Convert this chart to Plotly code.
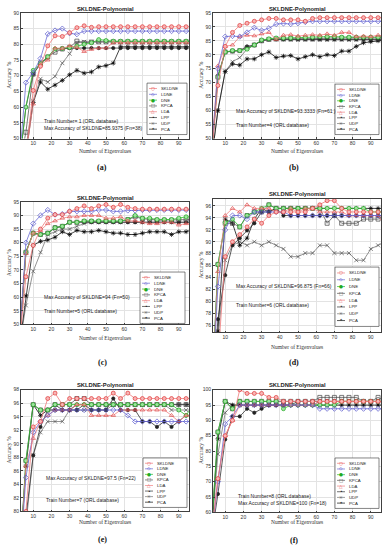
import plotly.graph_objects as go
from plotly.subplots import make_subplots

W, H = 384, 550

# ---------------- data ----------------
x_eig = [2, 6, 10, 14, 18, 22, 26, 30, 34, 38, 42, 46, 50, 54, 58, 62, 66, 70, 74, 78, 82, 86, 90, 94, 98]
methods = ["SKLDNE", "LDNE", "DNE", "KPCA", "LDA", "LPP", "UDP", "PCA"]

# (a) Train Number = 1
SK_a = [40, 45, 65.3, 73.0, 79.5, 82.7, 82.5, 83.7, 85.3, 85.9, 85.4, 85.6, 85.6, 85.6, 85.6, 85.6, 85.6, 85.6, 85.6, 85.6, 85.6, 85.6, 85.6, 85.6, 85.6]
LD_a = [40, 67.8, 71.0, 75.5, 83.3, 84.4, 85.0, 83.5, 83.2, 84.2, 84.2, 84.2, 84.2, 84.2, 84.2, 84.2, 84.2, 84.2, 84.2, 84.2, 84.2, 84.2, 84.2, 84.2, 84.2]
DN_a = [40, 60.0, 71.7, 73.8, 76.0, 78.5, 78.7, 79.0, 79.4, 80.0, 80.5, 81.5, 81.2, 81.0, 81.0, 81.0, 81.0, 81.0, 81.0, 81.0, 81.0, 81.0, 81.0, 81.0, 81.0]
KP_a = [40, 52.0, 70.5, 74.0, 76.0, 77.5, 78.5, 79.0, 81.0, 80.5, 80.7, 80.8, 80.8, 80.8, 80.8, 80.8, 80.8, 80.8, 80.8, 80.8, 80.8, 80.8, 80.8, 80.8, 80.8]
LA_a = [40, 45.0, 61.0, 73.5, 75.0, 78.8, 78.7, 79.5, 79.0, 77.7, 78.4, 78.8, 78.8, 80.5, 80.5, 80.5, 80.5, 80.5, 80.5, 80.5, 80.5, 80.5, 80.5, 80.5, 80.5]
LP_a = [40, 60.0, 70.5, 73.8, 75.8, 78.5, 78.6, 78.8, 78.8, 78.8, 78.8, 78.8, 78.8, 78.8, 78.8, 78.8, 78.8, 78.8, 78.8, 78.8, 78.8, 78.8, 78.8, 78.8, 78.8]
UD_a = [40, 47.0, 62.0, 69.0, 68.0, 69.8, 74.0, 77.0, 80.5, 80.8, 80.8, 80.8, 80.8, 80.8, 80.8, 80.8, 80.8, 80.8, 80.8, 80.8, 80.8, 80.8, 80.8, 80.8, 80.8]
PC_a = [40, 45.0, 61.5, 68.0, 65.7, 67.0, 68.5, 70.3, 71.7, 70.8, 71.2, 72.8, 73.2, 74.0, 79.2, 79.2, 79.2, 79.2, 79.2, 79.2, 79.2, 79.2, 79.2, 79.2, 79.2]

# (b) Train Number = 4
SK_b = [40, 69.0, 83.0, 88.0, 90.5, 91.3, 92.0, 92.5, 93.0, 93.0, 92.5, 92.5, 92.5, 92.0, 93.0, 93.3, 93.3, 93.3, 93.3, 93.3, 93.3, 93.3, 93.3, 93.3, 93.3]
LD_b = [40, 75.0, 86.5, 86.7, 86.5, 88.0, 89.7, 88.7, 89.5, 91.0, 91.2, 91.0, 91.3, 91.7, 92.0, 92.0, 92.0, 92.0, 92.0, 92.0, 92.0, 92.0, 92.0, 92.0, 92.0]
DN_b = [40, 72.0, 81.0, 81.5, 81.5, 82.0, 83.5, 85.3, 85.7, 86.0, 86.0, 86.0, 86.2, 86.2, 86.3, 86.5, 86.5, 86.5, 86.3, 86.3, 86.3, 86.3, 86.3, 86.3, 86.3]
KP_b = [40, 72.0, 81.0, 81.3, 81.5, 82.5, 83.5, 85.0, 85.5, 85.7, 85.7, 85.8, 85.8, 85.8, 85.8, 85.8, 86.0, 86.0, 86.0, 86.0, 86.0, 86.0, 86.0, 86.0, 86.0]
LA_b = [40, 76.0, 83.0, 83.5, 86.5, 87.0, 86.8, 87.5, 88.0, 85.5, 87.0, 87.2, 86.7, 87.0, 87.2, 87.0, 87.5, 87.0, 88.0, 88.0, 86.5, 86.7, 86.5, 87.0, 86.7]
LP_b = [40, 72.5, 81.0, 81.3, 81.5, 83.0, 83.5, 85.0, 85.5, 85.5, 85.5, 85.5, 85.5, 85.5, 85.5, 85.5, 85.5, 85.5, 85.5, 85.5, 85.5, 85.5, 85.5, 85.5, 85.5]
UD_b = [40, 60.0, 74.0, 77.5, 79.0, 82.0, 83.5, 85.0, 85.5, 85.5, 85.5, 85.3, 85.3, 85.3, 85.3, 85.3, 85.3, 85.3, 85.3, 85.3, 85.3, 85.3, 85.3, 85.3, 85.3]
PC_b = [40, 60.0, 74.0, 76.7, 76.3, 78.5, 78.5, 80.0, 81.0, 79.0, 79.5, 79.7, 78.5, 79.3, 80.0, 79.3, 80.0, 79.7, 81.3, 81.3, 83.0, 84.3, 84.7, 85.0, 85.3]

# (c) Train Number = 5
SK_c = [40, 67.5, 79.0, 85.0, 89.0, 90.3, 90.3, 91.5, 92.5, 93.5, 92.5, 93.5, 94.0, 93.0, 94.0, 93.0, 92.5, 92.3, 92.3, 92.3, 92.3, 92.3, 92.3, 92.3, 92.3]
LD_c = [40, 80.0, 87.0, 90.0, 92.0, 90.3, 90.5, 91.5, 91.5, 91.5, 91.5, 92.0, 92.0, 91.5, 91.5, 91.8, 91.8, 92.0, 92.0, 92.0, 92.0, 92.0, 92.0, 92.0, 92.0]
DN_c = [40, 76.5, 83.5, 83.0, 83.5, 85.5, 86.0, 87.5, 87.5, 88.0, 88.0, 88.0, 88.0, 88.0, 88.0, 88.5, 90.0, 89.0, 89.0, 88.5, 88.5, 88.5, 89.0, 89.5, 89.5]
KP_c = [40, 76.5, 83.5, 83.0, 83.5, 85.5, 86.0, 87.5, 87.5, 87.8, 87.8, 87.8, 87.8, 87.8, 87.8, 88.5, 89.5, 88.8, 88.5, 88.3, 88.3, 88.3, 88.5, 88.5, 88.5]
LA_c = [40, 76.0, 83.5, 84.5, 87.0, 88.0, 89.0, 89.5, 89.5, 90.0, 90.0, 90.0, 89.0, 89.0, 89.5, 88.0, 88.0, 87.5, 87.0, 87.0, 87.5, 87.5, 86.5, 87.0, 87.0]
LP_c = [40, 76.5, 83.5, 83.0, 83.5, 85.5, 86.0, 87.5, 87.5, 87.5, 87.5, 87.5, 87.5, 87.5, 87.5, 87.5, 87.5, 87.5, 87.5, 87.5, 87.5, 87.5, 87.5, 87.5, 87.5]
UD_c = [40, 57.0, 69.5, 76.5, 83.0, 84.0, 85.0, 85.0, 86.0, 87.0, 87.5, 87.5, 87.5, 87.5, 87.5, 87.5, 87.5, 87.5, 87.5, 87.5, 87.5, 87.5, 87.5, 87.5, 87.5]
PC_c = [40, 60.5, 79.0, 80.5, 81.0, 82.0, 84.0, 83.0, 84.5, 84.0, 84.0, 84.5, 84.0, 83.5, 83.5, 83.0, 83.0, 83.5, 84.0, 84.0, 84.0, 83.0, 84.0, 84.0, 85.0]

# (d) Train Number = 6
SK_d = [60, 70.0, 87.5, 90.0, 91.2, 92.5, 93.8, 93.1, 94.4, 95.0, 95.0, 95.0, 95.0, 95.0, 95.6, 96.2, 96.9, 96.9, 95.6, 95.0, 95.0, 95.0, 95.0, 95.0, 95.0]
LD_d = [60, 82.5, 92.0, 94.4, 94.4, 93.8, 95.0, 95.0, 95.0, 95.0, 95.0, 94.4, 94.4, 94.4, 94.4, 94.4, 94.4, 94.4, 94.4, 94.4, 94.4, 94.4, 94.4, 94.4, 94.4]
DN_d = [60, 86.2, 93.2, 93.8, 92.5, 94.4, 95.0, 95.6, 96.2, 95.6, 95.6, 95.6, 95.6, 95.6, 95.6, 95.6, 95.6, 95.6, 95.6, 95.6, 95.6, 95.6, 95.0, 95.0, 95.0]
KP_d = [60, 86.2, 93.1, 93.1, 92.5, 94.4, 95.0, 95.0, 96.2, 95.6, 95.6, 95.6, 95.6, 95.6, 95.6, 95.6, 93.1, 94.4, 93.1, 93.1, 93.1, 93.8, 93.8, 93.8, 94.4]
LA_d = [60, 85.0, 94.4, 95.6, 95.0, 96.2, 95.6, 95.6, 95.6, 95.0, 95.0, 95.6, 95.0, 95.6, 95.6, 95.0, 95.0, 95.0, 95.0, 94.4, 94.4, 94.4, 94.4, 94.4, 92.5]
LP_d = [60, 77.0, 84.4, 89.4, 90.6, 91.9, 93.1, 95.0, 95.0, 95.6, 94.4, 94.4, 94.4, 94.4, 94.4, 94.4, 94.4, 94.4, 94.4, 94.4, 94.4, 94.4, 94.4, 94.4, 94.4]
UD_d = [60, 74.0, 86.9, 89.4, 90.0, 89.4, 90.0, 89.4, 90.0, 89.4, 88.8, 87.5, 87.5, 88.1, 88.1, 89.4, 89.4, 88.1, 88.1, 88.1, 86.9, 86.9, 88.8, 89.4, 90.0]
PC_d = [60, 75.0, 93.8, 93.1, 89.4, 90.6, 93.8, 95.6, 95.0, 95.6, 95.6, 95.6, 95.6, 95.6, 95.6, 95.6, 95.6, 95.6, 95.6, 95.6, 95.6, 95.6, 95.6, 95.6, 95.6]

# (e) Train Number = 7
SK_e = [70, 80.0, 92.5, 93.3, 96.7, 97.5, 95.8, 96.7, 96.7, 96.7, 96.7, 96.7, 96.7, 97.5, 96.7, 97.5, 96.7, 96.7, 96.7, 96.7, 96.7, 96.7, 96.7, 96.7, 96.7]
LD_e = [70, 85.0, 91.7, 93.3, 94.2, 95.0, 95.0, 95.0, 95.0, 95.0, 95.0, 95.0, 95.0, 95.0, 95.0, 94.2, 93.3, 93.3, 93.3, 93.3, 93.3, 93.3, 93.3, 93.3, 93.3]
DN_e = [70, 87.5, 95.8, 95.0, 95.0, 95.8, 95.8, 95.8, 95.8, 95.8, 95.8, 95.8, 95.8, 95.8, 95.8, 95.8, 95.8, 95.8, 95.8, 95.8, 95.8, 95.8, 95.0, 94.2, 95.8]
KP_e = [70, 87.5, 95.8, 95.0, 95.0, 95.8, 95.8, 95.8, 96.7, 96.7, 95.8, 95.8, 95.8, 95.8, 95.8, 95.8, 95.8, 95.8, 95.8, 95.8, 95.8, 95.8, 95.8, 95.8, 95.0]
LA_e = [70, 86.7, 90.8, 93.3, 94.2, 95.0, 95.0, 95.0, 95.8, 95.8, 94.2, 94.2, 94.2, 94.2, 95.0, 95.0, 95.0, 95.0, 95.0, 95.0, 95.0, 94.2, 93.3, 94.2, 94.2]
LP_e = [70, 79.0, 88.3, 92.5, 95.0, 95.8, 95.0, 95.0, 95.0, 95.8, 95.0, 95.0, 95.0, 96.7, 95.0, 95.0, 95.0, 93.3, 93.3, 92.5, 93.3, 92.5, 93.3, 94.2, 94.2]
UD_e = [70, 78.0, 88.3, 91.7, 93.3, 93.3, 93.3, 95.0, 95.0, 95.0, 95.0, 95.0, 95.0, 95.8, 95.8, 95.8, 95.8, 95.8, 95.8, 95.8, 95.8, 95.0, 95.0, 95.0, 95.0]
PC_e = [70, 86.7, 95.8, 94.2, 95.0, 95.0, 95.0, 95.0, 95.8, 95.8, 95.8, 95.8, 95.8, 95.8, 95.8, 95.8, 95.8, 95.8, 95.8, 95.8, 95.8, 95.8, 95.8, 95.8, 95.8]

# (f) Train Number = 8
SK_f = [50, 71.0, 85.0, 90.0, 100.0, 98.8, 98.8, 98.8, 97.5, 97.5, 96.2, 96.2, 96.2, 96.2, 96.2, 96.2, 96.2, 96.2, 96.2, 96.2, 96.2, 96.2, 96.2, 96.2, 96.2]
LD_f = [50, 70.0, 88.8, 91.3, 95.0, 95.0, 95.0, 95.0, 95.0, 95.0, 95.0, 95.0, 95.0, 95.0, 95.0, 93.8, 93.8, 93.8, 93.8, 93.8, 93.8, 93.8, 93.8, 93.8, 93.8]
DN_f = [50, 86.2, 96.2, 93.8, 96.2, 96.2, 96.2, 96.2, 96.2, 96.2, 93.8, 95.0, 95.0, 95.0, 95.0, 95.0, 95.0, 95.0, 96.2, 96.2, 96.2, 96.2, 96.2, 96.2, 96.2]
KP_f = [50, 86.2, 96.2, 93.8, 96.2, 96.2, 96.2, 96.2, 96.2, 96.2, 96.2, 96.2, 96.2, 96.2, 96.2, 97.5, 97.5, 97.5, 97.5, 97.5, 97.5, 96.2, 96.2, 97.5, 96.2]
LA_f = [50, 71.0, 85.0, 90.0, 95.0, 95.0, 95.0, 95.0, 95.0, 95.0, 95.0, 95.0, 95.0, 95.0, 95.0, 96.2, 96.2, 96.2, 96.2, 96.2, 96.2, 96.2, 96.2, 96.2, 96.2]
LP_f = [50, 66.0, 83.8, 91.3, 91.3, 93.8, 92.5, 93.8, 95.0, 95.0, 95.0, 95.0, 96.2, 96.2, 96.2, 96.2, 96.2, 96.2, 96.2, 96.2, 96.2, 96.2, 96.2, 96.2, 96.2]
UD_f = [50, 79.0, 92.5, 95.0, 95.0, 95.0, 95.0, 95.0, 95.0, 95.0, 95.0, 95.0, 95.0, 95.0, 95.0, 96.2, 96.2, 96.2, 96.2, 96.2, 96.2, 96.2, 96.2, 96.2, 96.2]
PC_f = [50, 84.0, 96.2, 95.0, 95.0, 95.0, 95.0, 95.0, 95.0, 95.0, 95.0, 95.0, 95.0, 95.0, 95.0, 95.0, 95.0, 95.0, 95.0, 95.0, 95.0, 95.0, 95.0, 95.0, 95.0]

x_ticks = [10, 20, 30, 40, 50, 60, 70, 80, 90]
yticks_a = [50, 55, 60, 65, 70, 75, 80, 85, 90]
yticks_b = [50, 55, 60, 65, 70, 75, 80, 85, 90, 95]
yticks_d = [76, 78, 80, 82, 84, 86, 88, 90, 92, 94, 96]
yticks_e = [80, 82, 84, 86, 88, 90, 92, 94, 96, 98]
yticks_f = [60, 65, 70, 75, 80, 85, 90, 95, 100]

panel_labels = ["(a)", "(b)", "(c)", "(d)", "(e)", "(f)"]
title_text = "SKLDNE-Polynomial"
x_title = "Number of Eigenvalues"
y_title = "Accuracy %"

# ---------------- styles ----------------
STY = {
    "SKLDNE": dict(line="#f07a7a", mc="#e03a3a", fill="#f7b5b5", sym="circle", u="○"),
    "LDNE":   dict(line="#6c6cd6", mc="#5555cc", fill=None, sym="diamond-open", u="◇"),
    "DNE":    dict(line="#2dbf2d", mc="#22aa22", fill="#9fe49f", sym="circle", u="●"),
    "KPCA":   dict(line="#5a5a5a", mc="#444444", fill=None, sym="square-open", u="□"),
    "LDA":    dict(line="#f08080", mc="#e05050", fill=None, sym="triangle-up-open", u="△"),
    "LPP":    dict(line="#333333", mc="#222222", fill="#222222", sym="circle", u="•"),
    "UDP":    dict(line="#777777", mc="#555555", fill=None, sym="x-thin-open", u="×"),
    "PCA":    dict(line="#111111", mc="#000000", fill=None, sym="asterisk-open", u="*"),
}
draw_order = ["UDP", "PCA", "LPP", "KPCA", "DNE", "LDA", "LDNE", "SKLDNE"]

panels = [
    dict(series=[SK_a, LD_a, DN_a, KP_a, LA_a, LP_a, UD_a, PC_a], yr=[50, 90], yt=yticks_a,
         box=(21, 189, 10, 137), title_y=6, xt_y=150, lab_y=166, leg=(147, 187, 81, 133),
         notes=[("Train Number= 1 (ORL database)", 15, 55.6),
                ("Max Accuracy of SKLDNE=85.9375 (Fn=38)", 15, 53.2)]),
    dict(series=[SK_b, LD_b, DN_b, KP_b, LA_b, LP_b, UD_b, PC_b], yr=[50, 95], yt=yticks_b,
         box=(213, 381, 10, 137), title_y=6, xt_y=150, lab_y=166, leg=(335, 379, 82, 133),
         notes=[("Max Accuracy of SKLDNE=93.3333 (Fn=61 )", 15, 60.0),
                ("Train Number=4 (ORL database)", 15, 55.0)]),
    dict(series=[SK_c, LD_c, DN_c, KP_c, LA_c, LP_c, UD_c, PC_c], yr=[50, 95], yt=yticks_b,
         box=(21, 189, 201, 325), title_y=197, xt_y=339, lab_y=363, leg=(140, 185, 272, 324),
         notes=[("Max Accuracy of SKLDNE=94 (Fn=50)", 15, 60.2),
                ("Train Number=5 (ORL database)", 15, 55.0)]),
    dict(series=[SK_d, LD_d, DN_d, KP_d, LA_d, LP_d, UD_d, PC_d], yr=[74.8, 97.2], yt=yticks_d,
         box=(213, 381, 198, 333), title_y=193, xt_y=348, lab_y=363, leg=(335, 379, 267, 327),
         notes=[("Max Accuracy of SKLDNE=96.875 (Fn=66)", 15, 82.6),
                ("Train Number=6 (ORL database)", 15, 79.4)]),
    dict(series=[SK_e, LD_e, DN_e, KP_e, LA_e, LP_e, UD_e, PC_e], yr=[80, 98], yt=yticks_e,
         box=(21, 189, 391, 514), title_y=386, xt_y=525, lab_y=542, leg=(143, 187, 460, 510),
         notes=[("Max Accuracy of SKLDNE=97.5 (Fn=22)", 16, 85.0),
                ("Train Number=7 (ORL database)", 16, 81.7)]),
    dict(series=[SK_f, LD_f, DN_f, KP_f, LA_f, LP_f, UD_f, PC_f], yr=[60, 100], yt=yticks_f,
         box=(213, 381, 391, 515), title_y=386, xt_y=525, lab_y=543, leg=(335, 379, 460, 511),
         notes=[("Train Number=8 (ORL database)", 16, 65.3),
                ("Max Accuracy of SKLDNE=100 (Fn=18)", 16, 63.0)]),
]

SANS = "Liberation Sans, Arial, sans-serif"
SERIF = "Liberation Serif, Times New Roman, serif"


def px(x):
    return x / W


def py(y):
    return 1 - y / H


fig = make_subplots(rows=3, cols=2)
annotations = []
shapes = []

for i, p in enumerate(panels):
    r, c = i // 2 + 1, i % 2 + 1
    L, R, T, B = p["box"]
    for name in draw_order:
        k = methods.index(name)
        s = STY[name]
        mk = dict(symbol=s["sym"], size=4, color=s["fill"] if s["fill"] else s["mc"],
                  line=dict(color=s["mc"], width=0.7))
        if name == "LPP":
            mk["size"] = 3.3
        fig.add_trace(go.Scatter(x=x_eig, y=p["series"][k], mode="lines+markers", name=name,
                                 showlegend=False, cliponaxis=True, hoverinfo="skip",
                                 line=dict(color=s["line"], width=0.8), marker=mk),
                      row=r, col=c)
    xa = "xaxis" if i == 0 else f"xaxis{i+1}"
    ya = "yaxis" if i == 0 else f"yaxis{i+1}"
    fig.layout[xa].update(domain=[px(L), px(R)], range=[3.3, 95.6], tickvals=x_ticks,
                          showgrid=True, gridcolor="#e3e3e3", gridwidth=0.6, zeroline=False,
                          showline=True, linecolor="#404040", linewidth=0.7, mirror=True,
                          ticks="inside", ticklen=2, tickcolor="#404040",
                          tickfont=dict(family=SANS, size=5, color="#333"))
    fig.layout[ya].update(domain=[py(B), py(T)], range=p["yr"], tickvals=p["yt"],
                          showgrid=True, gridcolor="#e3e3e3", gridwidth=0.6, zeroline=False,
                          showline=True, linecolor="#404040", linewidth=0.7, mirror=True,
                          ticks="inside", ticklen=2, tickcolor="#404040",
                          tickfont=dict(family=SANS, size=5, color="#333"))
    xref = "x" if i == 0 else f"x{i+1}"
    yref = "y" if i == 0 else f"y{i+1}"
    cx = (L + R) / 2
    annotations.append(dict(text="<b>" + title_text + "</b>", x=px(cx), y=py(p["title_y"]),
                            xref="paper", yref="paper", showarrow=False, xanchor="center",
                            yanchor="middle", font=dict(family=SANS, size=5.8, color="#222")))
    annotations.append(dict(text=x_title, x=px(cx), y=py(p["xt_y"]), xref="paper", yref="paper",
                            showarrow=False, xanchor="center", yanchor="middle",
                            font=dict(family=SERIF, size=5.5, color="#333")))
    annotations.append(dict(text=y_title, x=px(L - 12), y=py((T + B) / 2), xref="paper",
                            yref="paper", showarrow=False, textangle=-90, xanchor="center",
                            yanchor="middle", font=dict(family=SERIF, size=5.5, color="#333")))
    annotations.append(dict(text="<b>" + panel_labels[i] + "</b>", x=px(cx - 3), y=py(p["lab_y"]),
                            xref="paper", yref="paper", showarrow=False, xanchor="center",
                            yanchor="middle", font=dict(family=SERIF, size=8, color="#111")))
    for txt, nx, ny in p["notes"]:
        annotations.append(dict(text=txt, x=nx, y=ny, xref=xref, yref=yref, showarrow=False,
                                xanchor="left", yanchor="middle",
                                font=dict(family=SANS, size=5, color="#222")))
    lx0, lx1, ly0, ly1 = p["leg"]
    shapes.append(dict(type="rect", xref="paper", yref="paper", x0=px(lx0), x1=px(lx1),
                       y0=py(ly1), y1=py(ly0), line=dict(color="#333", width=0.6),
                       fillcolor="white", layer="above"))
    n = len(methods)
    for k, name in enumerate(methods):
        s = STY[name]
        ey = ly0 + 2.5 + (ly1 - ly0 - 5) * (k + 0.5) / n
        shapes.append(dict(type="line", xref="paper", yref="paper", x0=px(lx0 + 2), x1=px(lx0 + 10),
                           y0=py(ey), y1=py(ey), line=dict(color=s["line"], width=0.7),
                           layer="above"))
        annotations.append(dict(text=s["u"], x=px(lx0 + 6), y=py(ey), xref="paper", yref="paper",
                                showarrow=False, xanchor="center", yanchor="middle",
                                font=dict(family="DejaVu Sans", size=4.5, color=s["mc"])))
        annotations.append(dict(text=name, x=px(lx0 + 12), y=py(ey), xref="paper", yref="paper",
                                showarrow=False, xanchor="left", yanchor="middle",
                                font=dict(family=SANS, size=4.3, color="#222")))

fig.update_layout(width=W, height=H, margin=dict(l=0, r=0, t=0, b=0),
                  paper_bgcolor="white", plot_bgcolor="white", hovermode=False,
                  annotations=annotations, shapes=shapes, showlegend=False)

fig.write_html("out.html", config={"displayModeBar": False},
               post_script="document.body.style.margin='0';document.body.style.padding='0';")
